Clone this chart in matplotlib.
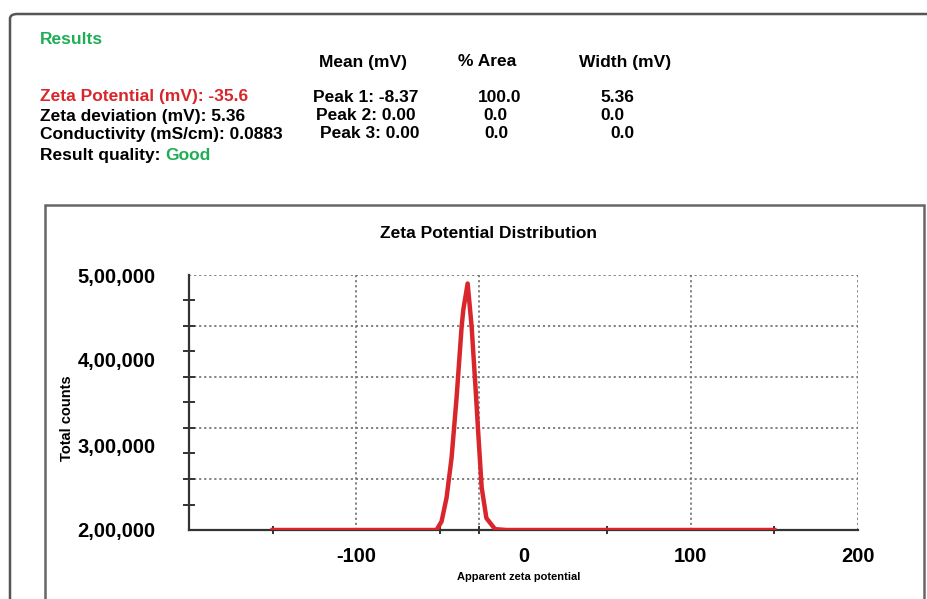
import matplotlib
matplotlib.use("Agg")
import matplotlib.pyplot as plt
from matplotlib.patches import FancyBboxPatch, Rectangle

plt.rcParams['font.family'] = ['Liberation Sans', 'DejaVu Sans']
plt.rcParams['font.weight'] = 'bold'

# distribution
zeta_mv = [-150, -52, -49, -46, -43, -40, -37, -36, -33.4, -31, -28.7, -26.9, -25, -22.2, -17, -10, 150]
counts = [200000, 200000, 210000, 238000, 285000, 356000, 439000, 459000, 490000,
          439000, 368000, 309000, 250000, 214000, 201000, 200000, 200000]

xtick_vals = [-100, 0, 100, 200]
xtick_text = ['-100', '0', '100', '200']
ytick_vals = [200000, 300000, 400000, 500000]
ytick_text = ['2,00,000', '3,00,000', '4,00,000', '5,00,000']
xgrid = [-100, -26.9, 100, 200]
ygrid = [260000, 320000, 380000, 440000, 500000]
ysmall = [230000, 260000, 290000, 320000, 350000, 380000, 410000, 440000, 470000, 500000]
xsmall = [-150, -100, -50, -26.9, 0, 50, 100, 150, 200]

hdr_cols = ['Mean (mV)', '% Area', 'Width (mV)']
peak_lbl = ['Peak 1: -8.37', 'Peak 2: 0.00', 'Peak 3: 0.00']
peak_area = ['100.0', '0.0', '0.0']
peak_width = ['5.36', '0.0', '0.0']

W, H = 927, 599
fig = plt.figure(figsize=(W / 100, H / 100), dpi=100)


def fx(px):
    return px / W


def fy(py):
    return 1 - py / H


green = '#1fae55'
red = '#d8262c'

# outer frame and chart panel
fig.patches.append(FancyBboxPatch((fx(10), fy(640)), fx(960), fy(14) - fy(640),
                                  boxstyle='round,pad=0,rounding_size=0.008',
                                  transform=fig.transFigure, fill=False,
                                  edgecolor='#555555', lw=1.8))
fig.patches.append(Rectangle((fx(45), fy(640)), fx(879), fy(205) - fy(640),
                             transform=fig.transFigure, fill=False,
                             edgecolor='#666666', lw=1.8))

# results header
fs = 12.5
fig.text(fx(40), fy(39), 'Results', color=green, fontsize=fs, va='center')
fig.text(fx(363), fy(62), hdr_cols[0], fontsize=fs, va='center', ha='center')
fig.text(fx(487), fy(62), hdr_cols[1], fontsize=fs, va='center', ha='center')
fig.text(fx(625), fy(62), hdr_cols[2], fontsize=fs, va='center', ha='center')

left_rows = ['Zeta Potential (mV): -35.6', 'Zeta deviation (mV): 5.36',
             'Conductivity (mS/cm): 0.0883']
row_y = [97, 116, 134]
peak_x = [313, 316, 320]
area_x = [500, 495, 496]
width_x = [617, 612, 622]
for i in range(3):
    fig.text(fx(40), fy(row_y[i]), left_rows[i], fontsize=fs, va='center',
             color=red if i == 0 else 'black')
    fig.text(fx(peak_x[i]), fy(row_y[i]), peak_lbl[i], fontsize=fs, va='center')
    fig.text(fx(area_x[i]), fy(row_y[i]), peak_area[i], fontsize=fs, va='center', ha='center')
    fig.text(fx(width_x[i]), fy(row_y[i]), peak_width[i], fontsize=fs, va='center', ha='center')
t = fig.text(fx(40), fy(155), 'Result quality: ', fontsize=fs, va='center')
fig.canvas.draw()
bb = t.get_window_extent()
fig.text(bb.x1 / W, fy(155), 'Good', fontsize=fs, va='center', color=green)

# plot
ax = fig.add_axes([fx(189), fy(530), fx(858) - fx(189), fy(275) - fy(530)])
ax.plot(zeta_mv, counts, color=red, lw=3.2, solid_joinstyle='round', zorder=3)
ax.set_xlim(-200, 200)
ax.set_ylim(200000, 500000)

for g in xgrid:
    ax.axvline(g, color='#777777', ls=(0, (1.2, 1.6)), lw=1.3, zorder=1)
for g in ygrid:
    ax.axhline(g, color='#777777', ls=(0, (1.2, 1.6)), lw=1.3, zorder=1)

ax.set_xticks(xtick_vals)
ax.set_xticklabels(xtick_text, fontsize=14.5)
ax.set_xticks(xsmall, minor=True)
ax.set_yticks(ytick_vals)
ax.set_yticklabels(ytick_text, fontsize=14.5)
ax.set_yticks(ysmall, minor=True)
ax.tick_params(axis='x', which='major', length=0, pad=12)
ax.tick_params(axis='y', which='major', length=0, pad=24)
ax.tick_params(axis='x', which='minor', direction='inout', length=6, width=1.4,
               color='#333333')
ax.tick_params(axis='y', which='minor', direction='inout', length=9, width=1.4,
               color='#333333')
for s in ['top', 'right']:
    ax.spines[s].set_visible(False)
for s in ['left', 'bottom']:
    ax.spines[s].set_color('#333333')
    ax.spines[s].set_linewidth(1.6)

fig.text(fx(488), fy(233), 'Zeta Potential Distribution', fontsize=12.5, ha='center', va='center')
fig.text(fx(67), fy(418), 'Total counts', fontsize=10.5, rotation=90, ha='center', va='center')
fig.text(fx(519), fy(577), 'Apparent zeta potential', fontsize=8, ha='center', va='center')

fig.savefig('out.png', dpi=100)
